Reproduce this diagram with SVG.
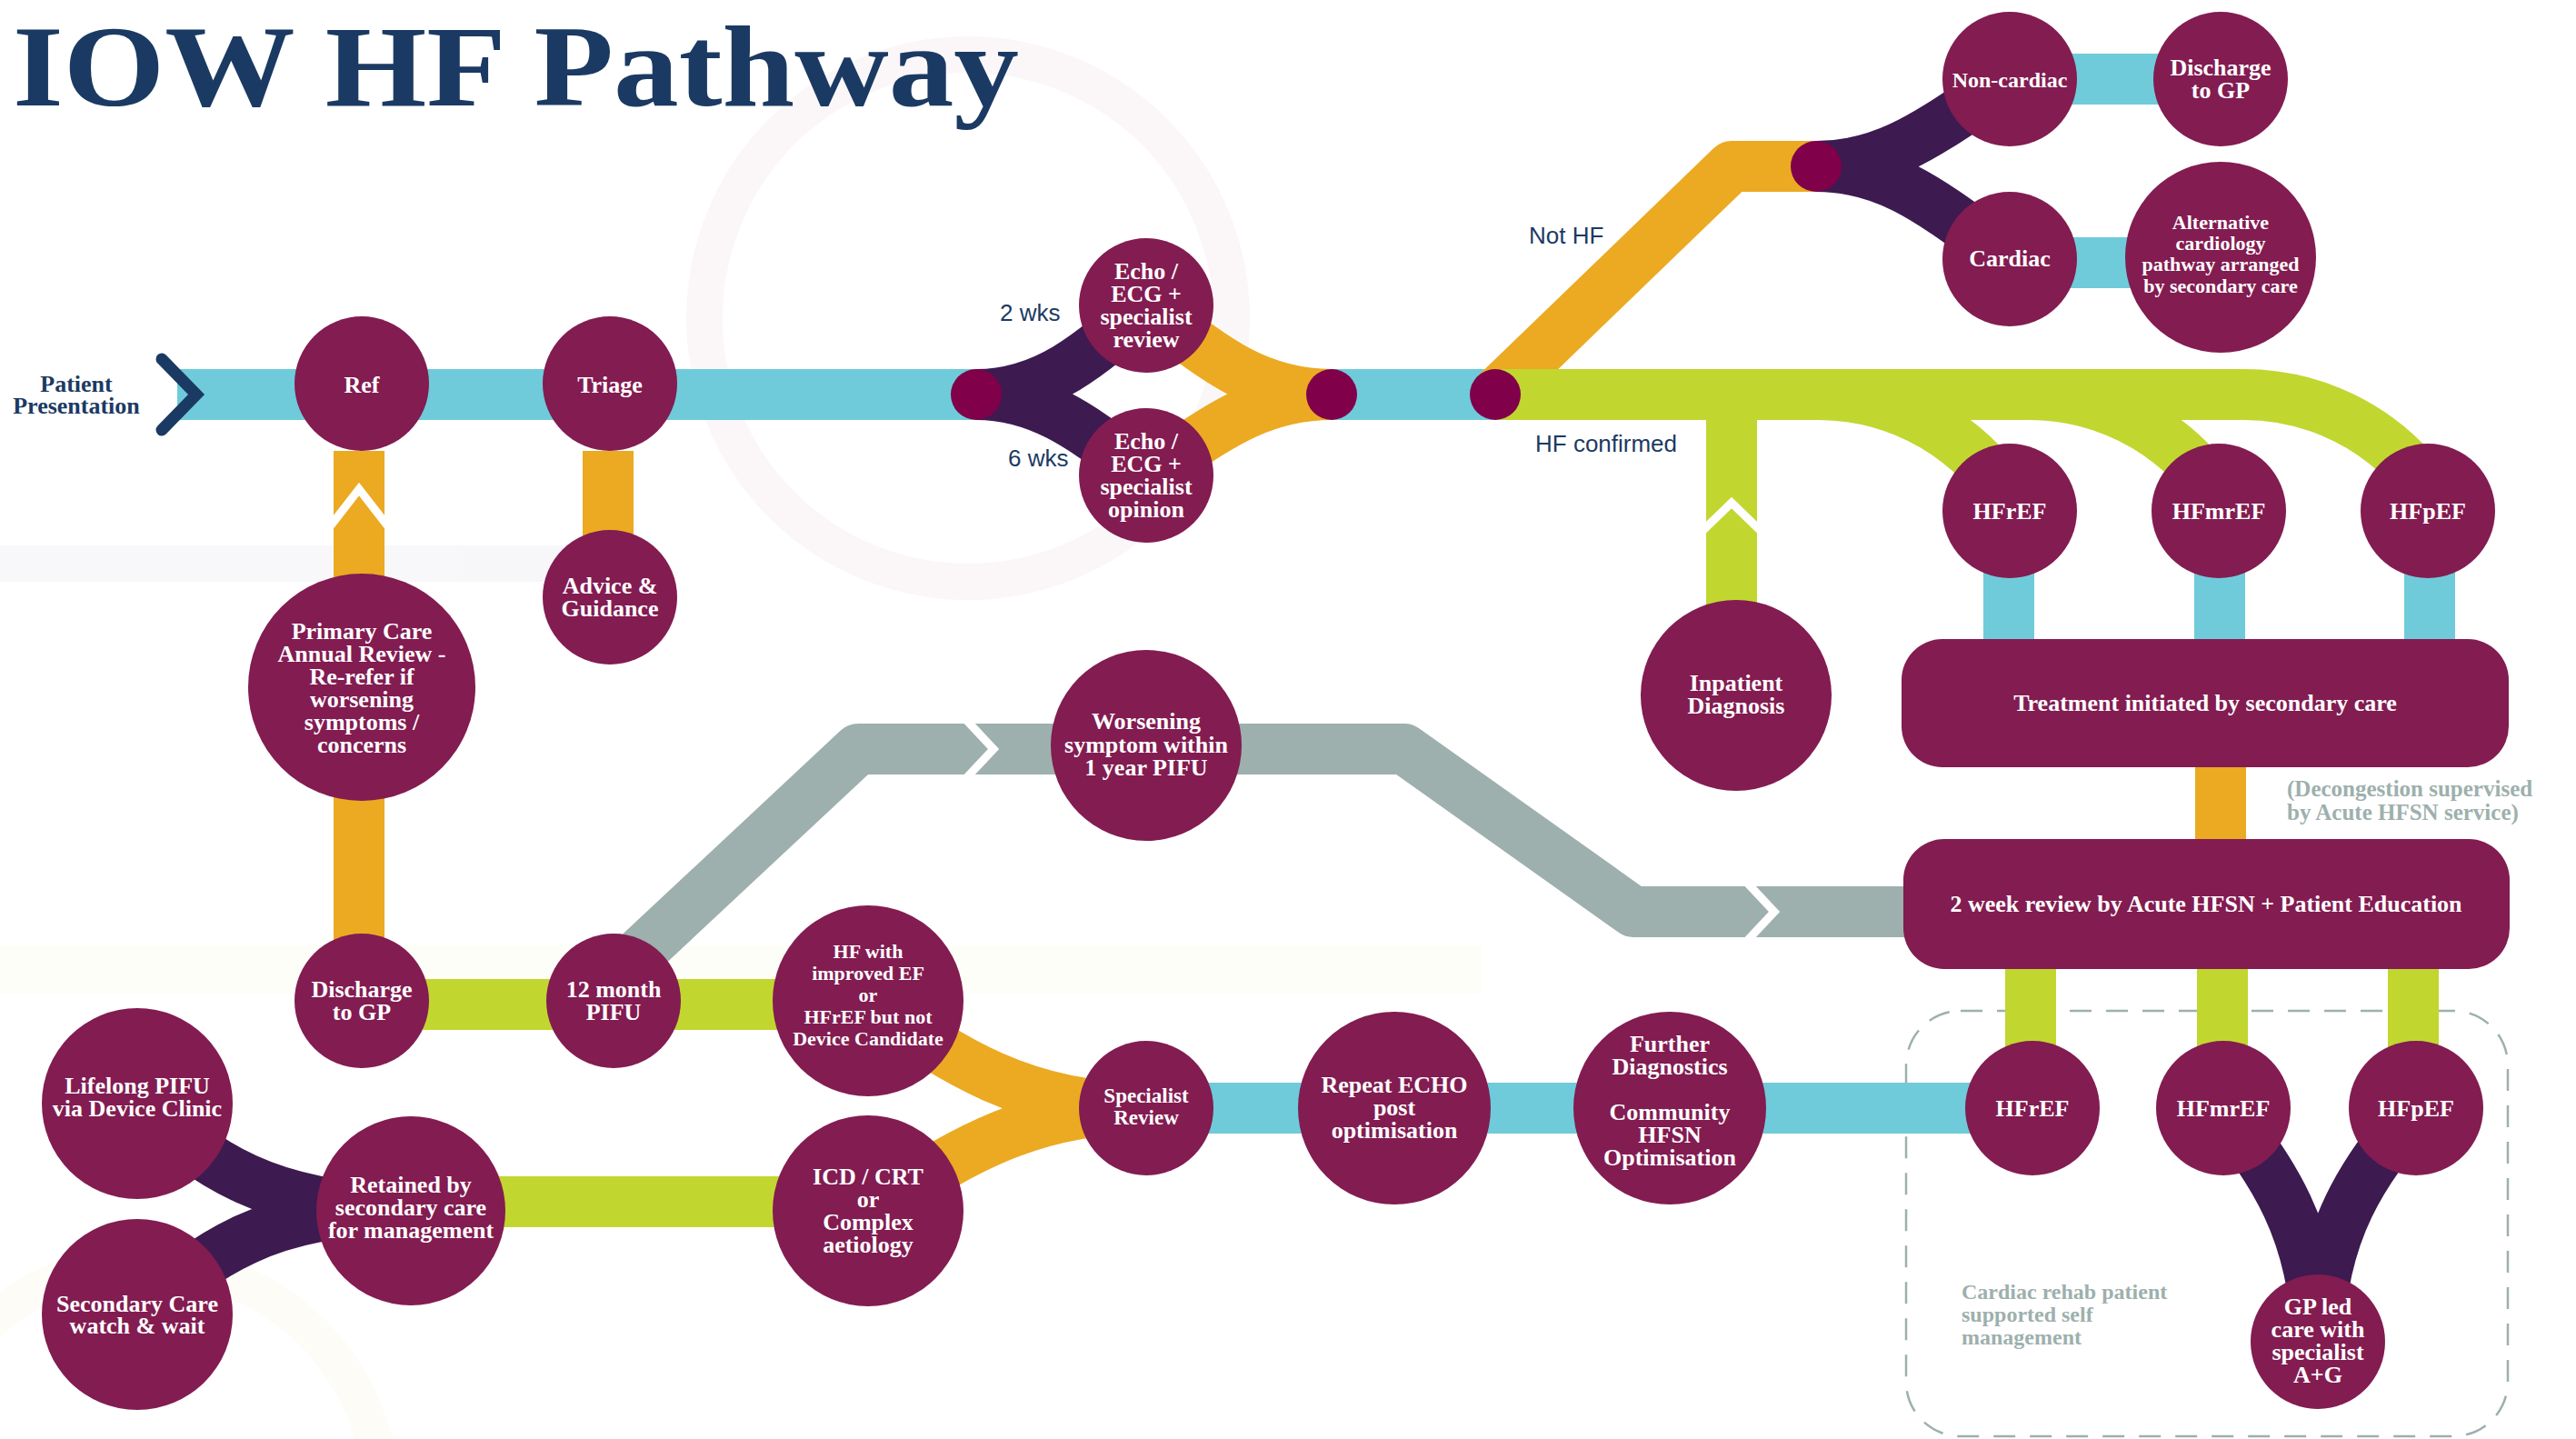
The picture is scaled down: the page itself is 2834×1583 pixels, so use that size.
<svg xmlns="http://www.w3.org/2000/svg" width="2834" height="1583" viewBox="0 0 2834 1583">
<style>
.node{fill:#821C51}
.dot{fill:#80004A}
.t{font-family:"Liberation Serif","Times New Roman",serif;font-weight:bold;font-size:26px;fill:#fff;text-anchor:middle}
.t22{font-size:22px}
.t23{font-size:23px}
.t24{font-size:24px}
.lbl{font-family:"Liberation Sans",Arial,sans-serif;font-size:26px;fill:#1B3A63}
.note{font-family:"Liberation Serif","Times New Roman",serif;font-weight:bold;font-size:25px;fill:#9DB0AD}
.ln{fill:none;stroke-width:56;stroke-linecap:butt}
.cy{stroke:#6FCBDA}
.or{stroke:#EBAA22}
.li{stroke:#C2D630}
.pu{stroke:#3D1A50}
.gr{stroke:#9DB0AD;stroke-linejoin:round}
.chev{fill:none;stroke:#fff;stroke-width:9;stroke-linejoin:miter}
</style>
<rect width="2834" height="1583" fill="#fff"/>
<g id="background" opacity="0.035">
<rect x="0" y="1040" width="1630" height="53" fill="#C2D630"/>
<rect x="0" y="600" width="620" height="40" fill="#3D1A50"/>
<circle cx="1065" cy="350" r="290" fill="none" stroke="#821C51" stroke-width="40"/>
<circle cx="160" cy="1650" r="260" fill="none" stroke="#EBAA22" stroke-width="40"/>
</g>
<text x="14" y="116" font-family="Liberation Serif, Times New Roman, serif" font-weight="bold" font-size="128" textLength="1107" lengthAdjust="spacingAndGlyphs" fill="#1B3A63">IOW HF Pathway</text>
<rect id="rehab-area" x="2097" y="1112" width="662" height="468" rx="60" fill="none" stroke="#9DB0AD" stroke-width="2.5" stroke-dasharray="24 16"/>
<g id="connectors">
<path class="ln cy" d="M195,434 L1074,434 M1465,434 L1645,434"/>
<path class="ln pu" d="M1074,434 C1150,434 1200,390 1261,336 M1074,434 C1150,434 1200,478 1261,523"/>
<path class="ln or" d="M1261,336 C1330,390 1380,434 1465,434 M1261,523 C1330,478 1380,434 1465,434"/>
<path class="ln or" style="stroke-linejoin:round" d="M1645,434 L1905,183 L1998,183"/>
<path class="ln pu" d="M1998,183 C2080,183 2130,140 2211,87 M1998,183 C2080,183 2130,226 2211,285"/>
<path class="ln cy" d="M2211,87 L2443,87 M2211,289 L2443,289"/>
<path class="ln li" d="M1645,434 L2468,434 A250,250 0 0 1 2645,507 L2690,552"/>
<path class="ln li" d="M2200,434 L2232,434 A250,250 0 0 1 2409,507 L2450,548"/>
<path class="ln li" d="M1970,434 L2000,434 A250,250 0 0 1 2177,507 L2215,545"/>
<path class="ln li" d="M1905,434 L1905,680"/>
<path class="ln cy" d="M2210,600 L2210,710 M2442,600 L2442,710 M2673,600 L2673,710"/>
<path class="ln or" d="M2443,840 L2443,930"/>
<path class="ln li" d="M2234,1060 L2234,1160 M2445,1060 L2445,1160 M2655,1060 L2655,1160"/>
<path class="ln or" d="M395,496 L395,1035 M669,496 L669,590"/>
<path class="ln li" d="M398,1105 L955,1105 M452,1322 L955,1322"/>
<path class="ln pu" d="M151,1214 C230,1280 290,1330 452,1330 M151,1446 C230,1380 290,1330 452,1330"/>
<path class="ln or" d="M955,1101 C1040,1160 1120,1219 1261,1219 M955,1332 C1040,1280 1120,1219 1261,1219"/>
<path class="ln cy" d="M1261,1219 L2236,1219"/>
<path class="ln pu" d="M2446,1219 C2500,1290 2545,1350 2550,1476 M2658,1219 C2600,1290 2555,1350 2550,1476"/>
<path class="ln gr" d="M657,1092 L944,824 L1545,824 L1797,1003 L2100,1003"/>
<path class="chev" d="M1063,792 L1093,824 L1063,856 M1922,971 L1952,1003 L1922,1035"/>
<path class="chev" d="M364,578 L395,538 L426,578 M1872,585 L1905,553 L1938,585"/>
<path fill="none" stroke="#1B3A63" stroke-width="13" stroke-linecap="round" stroke-linejoin="miter" d="M178,395 L216,434 L178,473"/>
<circle class="dot" cx="1074" cy="434" r="28"/>
<circle class="dot" cx="1465" cy="434" r="28"/>
<circle class="dot" cx="1645" cy="434" r="28"/>
<circle class="dot" cx="1998" cy="183" r="28"/>
</g>
<g id="labels">
<text class="t" style="fill:#1B3A63" x="84" y="431">Patient</text>
<text class="t" style="fill:#1B3A63" x="84" y="455">Presentation</text>
<text class="lbl" x="1100" y="353">2 wks</text>
<text class="lbl" x="1109" y="513">6 wks</text>
<text class="lbl" x="1682" y="268">Not HF</text>
<text class="lbl" x="1689" y="497">HF confirmed</text>
<text class="note" x="2516" y="876">(Decongestion supervised</text>
<text class="note" x="2516" y="902">by Acute HFSN service)</text>
<text class="note" style="font-size:24px" x="2158" y="1429">Cardiac rehab patient</text>
<text class="note" style="font-size:24px" x="2158" y="1454">supported self</text>
<text class="note" style="font-size:24px" x="2158" y="1479">management</text>
</g>
<g id="n-ref"><circle class="node" cx="398" cy="422" r="74"/><text class="t" x="398" y="432">Ref</text></g>
<g id="n-triage"><circle class="node" cx="671" cy="422" r="74"/><text class="t" x="671" y="432">Triage</text></g>
<g id="n-echo-review"><circle class="node" cx="1261" cy="336" r="74"/><text class="t" x="1261" y="307">Echo /</text><text class="t" x="1261" y="332">ECG +</text><text class="t" x="1261" y="357">specialist</text><text class="t" x="1261" y="382">review</text></g>
<g id="n-echo-opinion"><circle class="node" cx="1261" cy="523" r="74"/><text class="t" x="1261" y="494">Echo /</text><text class="t" x="1261" y="519">ECG +</text><text class="t" x="1261" y="544">specialist</text><text class="t" x="1261" y="569">opinion</text></g>
<g id="n-advice"><circle class="node" cx="671" cy="657" r="74"/><text class="t" x="671" y="653">Advice &amp;</text><text class="t" x="671" y="678">Guidance</text></g>
<g id="n-primary"><circle class="node" cx="398" cy="756" r="125"/><text class="t" x="398" y="703">Primary Care</text><text class="t" x="398" y="728">Annual Review -</text><text class="t" x="398" y="753">Re-refer if</text><text class="t" x="398" y="778">worsening</text><text class="t" x="398" y="803">symptoms /</text><text class="t" x="398" y="828">concerns</text></g>
<g id="n-discharge-gp-2"><circle class="node" cx="398" cy="1101" r="74"/><text class="t" x="398" y="1097">Discharge</text><text class="t" x="398" y="1122">to GP</text></g>
<g id="n-pifu12"><circle class="node" cx="675" cy="1101" r="74"/><text class="t" x="675" y="1097">12 month</text><text class="t" x="675" y="1122">PIFU</text></g>
<g id="n-hf-improved"><circle class="node" cx="955" cy="1101" r="105"/><text class="t t22" x="955" y="1054">HF with</text><text class="t t22" x="955" y="1078">improved EF</text><text class="t t22" x="955" y="1102">or</text><text class="t t22" x="955" y="1126">HFrEF but not</text><text class="t t22" x="955" y="1150">Device Candidate</text></g>
<g id="n-icd"><circle class="node" cx="955" cy="1332" r="105"/><text class="t" x="955" y="1303">ICD / CRT</text><text class="t" x="955" y="1328">or</text><text class="t" x="955" y="1353">Complex</text><text class="t" x="955" y="1378">aetiology</text></g>
<g id="n-lifelong"><circle class="node" cx="151" cy="1214" r="105"/><text class="t" x="151" y="1203">Lifelong PIFU</text><text class="t" x="151" y="1228">via Device Clinic</text></g>
<g id="n-secondary"><circle class="node" cx="151" cy="1446" r="105"/><text class="t" x="151" y="1443">Secondary Care</text><text class="t" x="151" y="1467">watch &amp; wait</text></g>
<g id="n-retained"><circle class="node" cx="452" cy="1332" r="104"/><text class="t" x="452" y="1312">Retained by</text><text class="t" x="452" y="1337">secondary care</text><text class="t" x="452" y="1362">for management</text></g>
<g id="n-specialist-review"><circle class="node" cx="1261" cy="1219" r="74"/><text class="t t23" x="1261" y="1213">Specialist</text><text class="t t23" x="1261" y="1237">Review</text></g>
<g id="n-repeat-echo"><circle class="node" cx="1534" cy="1219" r="106"/><text class="t" x="1534" y="1202">Repeat ECHO</text><text class="t" x="1534" y="1227">post</text><text class="t" x="1534" y="1252">optimisation</text></g>
<g id="n-further"><circle class="node" cx="1837" cy="1219" r="106"/><text class="t" x="1837" y="1157">Further</text><text class="t" x="1837" y="1182">Diagnostics</text><text class="t" x="1837" y="1232">Community</text><text class="t" x="1837" y="1257">HFSN</text><text class="t" x="1837" y="1282">Optimisation</text></g>
<g id="n-worsening"><circle class="node" cx="1261" cy="820" r="105"/><text class="t" x="1261" y="802">Worsening</text><text class="t" x="1261" y="828">symptom within</text><text class="t" x="1261" y="853">1 year PIFU</text></g>
<g id="n-inpatient"><circle class="node" cx="1910" cy="765" r="105"/><text class="t" x="1910" y="760">Inpatient</text><text class="t" x="1910" y="785">Diagnosis</text></g>
<g id="n-hfref-1"><circle class="node" cx="2211" cy="562" r="74"/><text class="t" x="2211" y="571">HFrEF</text></g>
<g id="n-hfmref-1"><circle class="node" cx="2441" cy="562" r="74"/><text class="t" x="2441" y="571">HFmrEF</text></g>
<g id="n-hfpef-1"><circle class="node" cx="2671" cy="562" r="74"/><text class="t" x="2671" y="571">HFpEF</text></g>
<g id="n-treatment"><rect class="node" x="2092" y="703" width="668" height="141" rx="45"/><text class="t" x="2426" y="782">Treatment initiated by secondary care</text></g>
<g id="n-review-2wk"><rect class="node" x="2094" y="923" width="667" height="143" rx="45"/><text class="t" x="2427" y="1003">2 week review by Acute HFSN + Patient Education</text></g>
<g id="n-hfref-2"><circle class="node" cx="2236" cy="1219" r="74"/><text class="t" x="2236" y="1228">HFrEF</text></g>
<g id="n-hfmref-2"><circle class="node" cx="2446" cy="1219" r="74"/><text class="t" x="2446" y="1228">HFmrEF</text></g>
<g id="n-hfpef-2"><circle class="node" cx="2658" cy="1219" r="74"/><text class="t" x="2658" y="1228">HFpEF</text></g>
<g id="n-gp-led"><circle class="node" cx="2550" cy="1476" r="74"/><text class="t" x="2550" y="1446">GP led</text><text class="t" x="2550" y="1471">care with</text><text class="t" x="2550" y="1496">specialist</text><text class="t" x="2550" y="1521">A+G</text></g>
<g id="n-noncardiac"><circle class="node" cx="2211" cy="87" r="74"/><text class="t t24" x="2211" y="96">Non-cardiac</text></g>
<g id="n-discharge-gp-1"><circle class="node" cx="2443" cy="87" r="74"/><text class="t" x="2443" y="83">Discharge</text><text class="t" x="2443" y="108">to GP</text></g>
<g id="n-cardiac"><circle class="node" cx="2211" cy="285" r="74"/><text class="t" x="2211" y="293">Cardiac</text></g>
<g id="n-alternative"><circle class="node" cx="2443" cy="283" r="105"/><text class="t t22" x="2443" y="252">Alternative</text><text class="t t22" x="2443" y="275">cardiology</text><text class="t t22" x="2443" y="298">pathway arranged</text><text class="t t22" x="2443" y="322">by secondary care</text></g>
</svg>
